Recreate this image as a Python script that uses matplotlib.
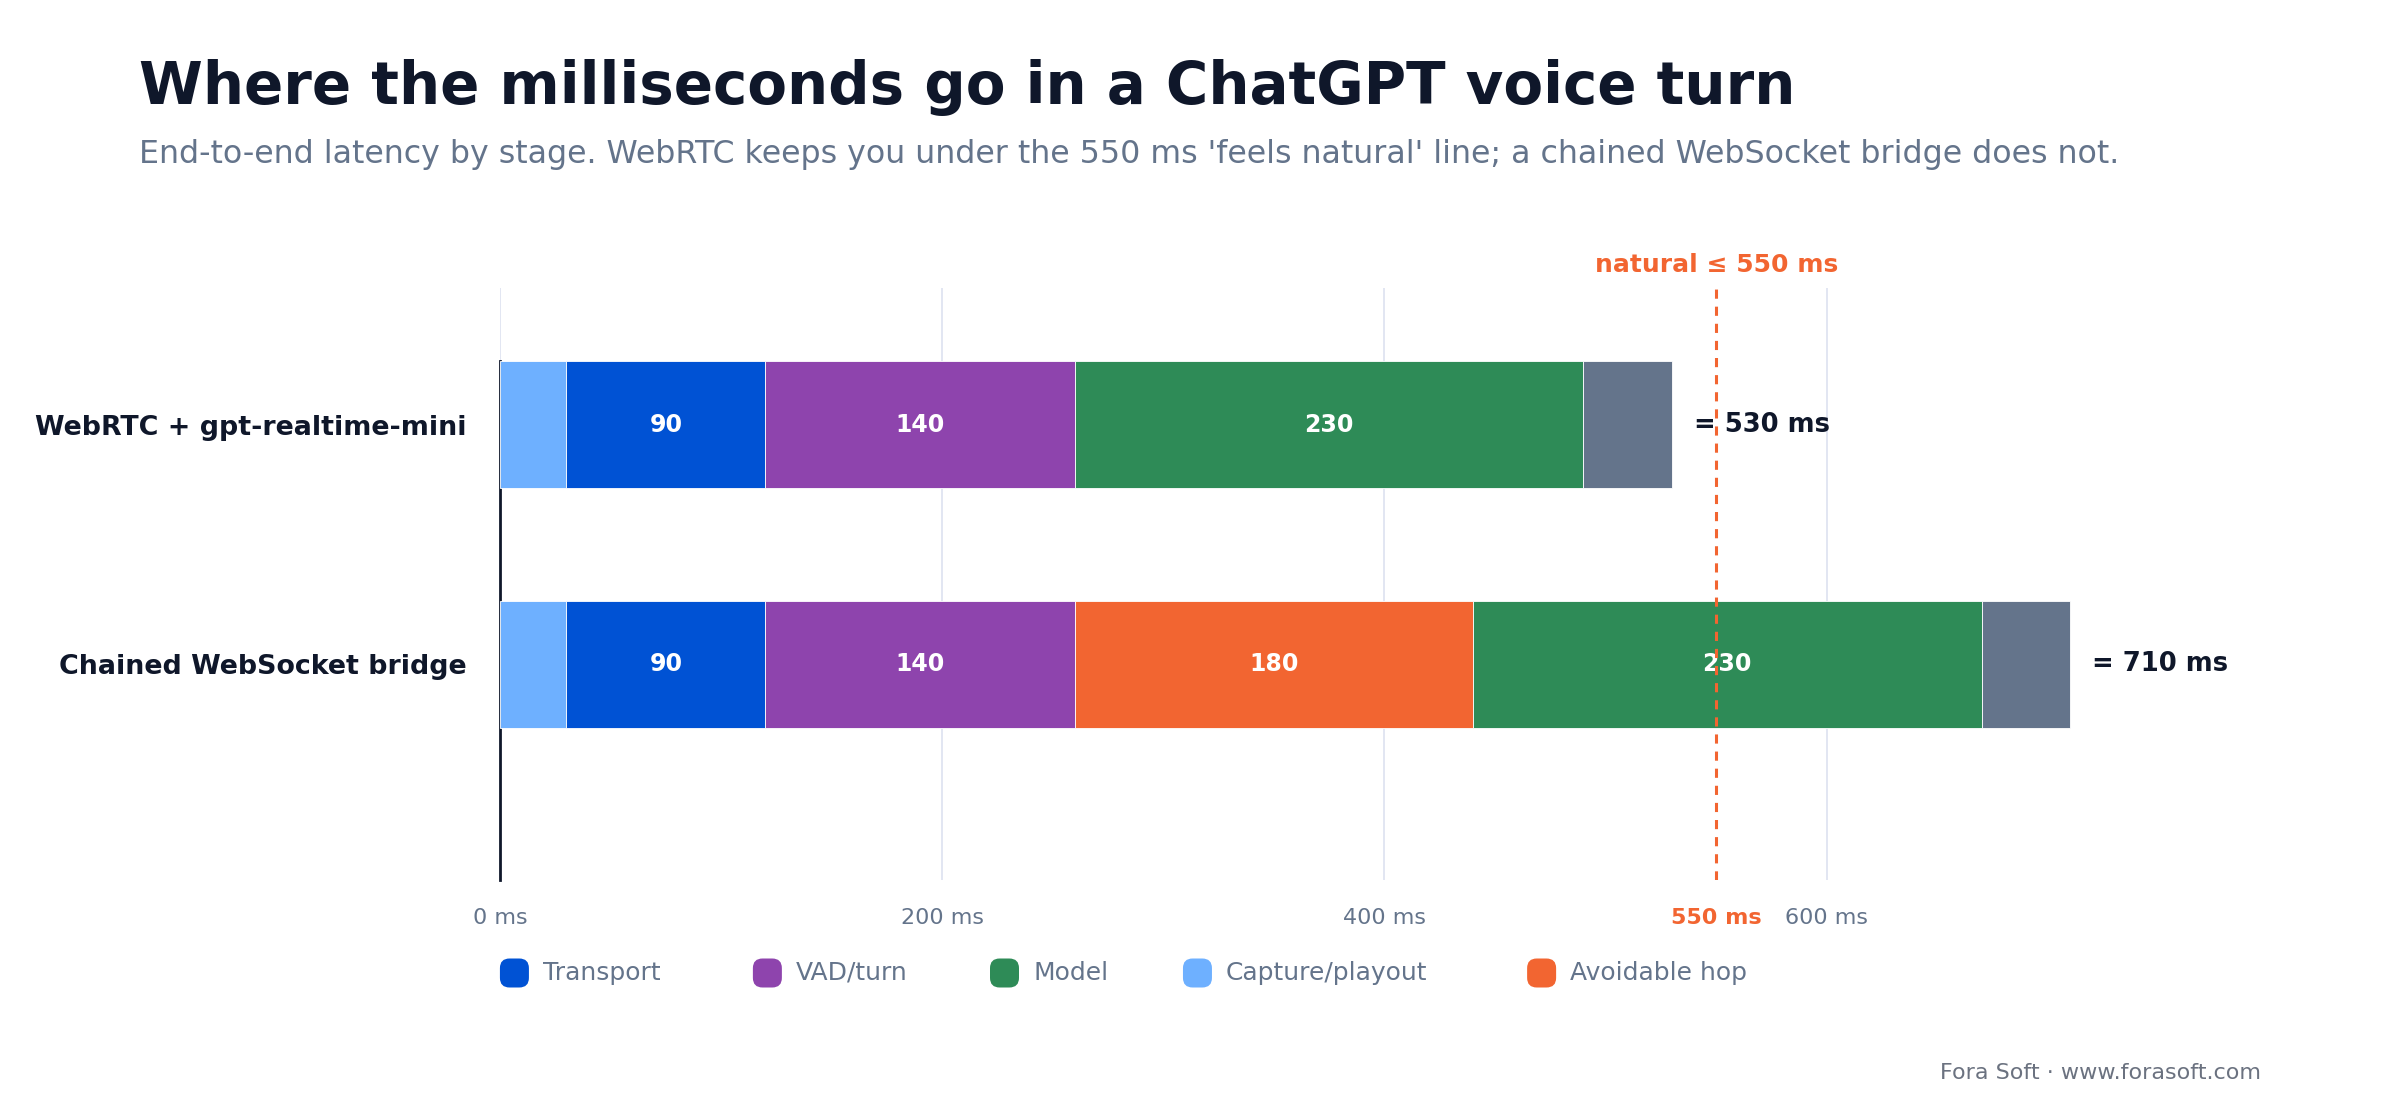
import matplotlib
matplotlib.use("Agg")
import matplotlib.pyplot as plt
from matplotlib.patches import FancyBboxPatch

# ---------------- data ----------------
categories = ["WebRTC + gpt-realtime-mini", "Chained WebSocket bridge"]
stages = ["Capture/playout", "Transport", "VAD/turn", "Avoidable hop", "Model", "Other"]
capture = [30, 30]
transport = [90, 90]
vad = [140, 140]
hop = [0, 180]
model = [230, 230]
other = [40, 40]
threshold = 550
xticks = [0, 200, 400, 600]
legend_order = ["Transport", "VAD/turn", "Model", "Capture/playout", "Avoidable hop"]

title = "Where the milliseconds go in a ChatGPT voice turn"
subtitle = ("End-to-end latency by stage. WebRTC keeps you under the 550 ms "
            "'feels natural' line; a chained WebSocket bridge does not.")
footer = "Fora Soft \u00b7 www.forasoft.com"

# ---------------- style ----------------
colors = {
    "Capture/playout": "#6eb0ff",
    "Transport": "#0052d4",
    "VAD/turn": "#8e44ad",
    "Avoidable hop": "#f26531",
    "Model": "#2e8b57",
    "Other": "#64748b",
}
DARK = "#0f172a"
SLATE = "#64748b"
ORANGE = "#f26531"
GRID = "#e2e6f2"

plt.rcParams["font.family"] = ["DejaVu Sans"]

fig = plt.figure(figsize=(12, 5.6), dpi=200)
ax = fig.add_axes([0.2083, 0.2143, 0.7196, 0.5286])

series = {
    "Capture/playout": capture,
    "Transport": transport,
    "VAD/turn": vad,
    "Avoidable hop": hop,
    "Model": model,
    "Other": other,
}

ypos = list(range(len(categories)))
bar_h = 0.53
lefts = [0.0] * len(categories)
for st in stages:
    vals = series[st]
    for i, v in enumerate(vals):
        if v <= 0:
            continue
        ax.barh(ypos[i], v, left=lefts[i], height=bar_h, color=colors[st],
                edgecolor="white", linewidth=0.3, zorder=3)
        if v >= 60:
            ax.text(lefts[i] + v / 2, ypos[i], f"{v}", ha="center", va="center",
                    color="white", fontsize=8.5, fontweight="bold", zorder=4)
        lefts[i] += v

for i, tot in enumerate(lefts):
    ax.text(tot + 10, ypos[i], f"= {int(tot)} ms", ha="left", va="center",
            color=DARK, fontsize=9.3, fontweight="bold", zorder=4)

ax.set_xlim(0, max(lefts) * 1.1)
ax.set_ylim(1.9, -0.57)

# threshold
ax.axvline(threshold, color=ORANGE, linestyle=(0, (3, 2.6)), linewidth=1.1, zorder=5)
ax.annotate(f"natural \u2264 {threshold} ms", xy=(threshold, 1.0),
            xycoords=ax.get_xaxis_transform(), xytext=(0, 4), textcoords="offset points",
            ha="center", va="bottom", color=ORANGE, fontsize=9, fontweight="bold")

# ticks
ax.set_xticks(xticks)
ax.set_xticklabels([f"{t} ms" for t in xticks])
ax.set_xticks([threshold], minor=True)
ax.set_xticklabels([f"{threshold} ms"], minor=True)
ax.tick_params(axis="x", which="both", length=0, pad=10, labelsize=8, labelcolor=SLATE)
for lab in ax.get_xticklabels(minor=True):
    lab.set_color(ORANGE)
    lab.set_fontweight("bold")
ax.set_yticks(ypos)
ax.set_yticklabels(categories, fontsize=9.7, fontweight="bold", color=DARK)
ax.tick_params(axis="y", length=0, pad=12)

ax.grid(axis="x", which="major", color=GRID, linewidth=0.7, zorder=0)
ax.set_axisbelow(True)
for s in ["top", "right", "bottom"]:
    ax.spines[s].set_visible(False)
ax.spines["left"].set_color(DARK)
ax.spines["left"].set_linewidth(1.0)
ax.spines["left"].set_bounds(-bar_h / 2, 1.9)

# titles
fig.text(0.058, 0.907, title, ha="left", va="baseline", fontsize=20.85,
         fontweight="bold", color=DARK)
fig.text(0.058, 0.8545, subtitle, ha="left", va="baseline", fontsize=11.4, color=SLATE)

# legend (manual)
leg_x = [0.2083, 0.3137, 0.4125, 0.4929, 0.6363]
leg_y = 1 - 973 / 1120
sw = 29 / 2400
sh = 29 / 1120
for x, name in zip(leg_x, legend_order):
    p = FancyBboxPatch((x, leg_y - sh / 2), sw, sh,
                       boxstyle="round,pad=0,rounding_size=0.004",
                       transform=fig.transFigure, facecolor=colors[name],
                       edgecolor="none", mutation_aspect=2400 / 1120)
    fig.patches.append(p)
    fig.text(x + sw + 14 / 2400, leg_y, name, ha="left", va="center",
             fontsize=9, color=SLATE)

fig.text(0.942, 1 - 1073 / 1120, footer, ha="right", va="center", fontsize=8,
         color="#6b7280")

fig.savefig("out.png", dpi=200, facecolor="white")
